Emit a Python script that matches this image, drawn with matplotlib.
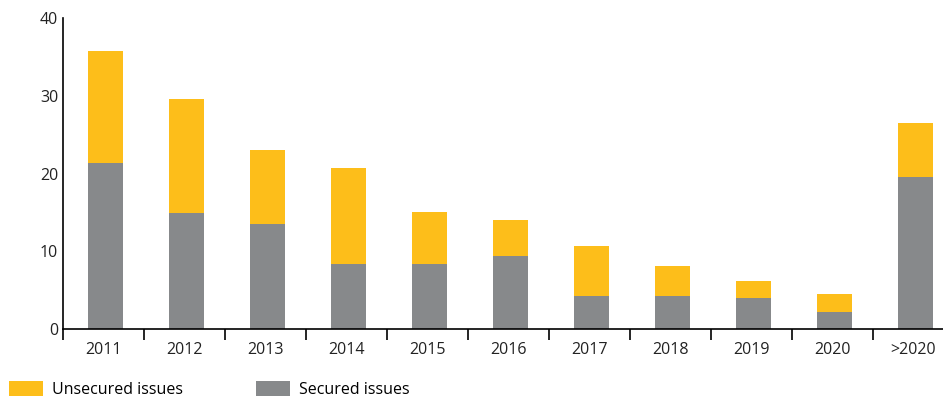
import matplotlib.pyplot as plt
import numpy as np

years = ['2011', '2012', '2013', '2014', '2015', '2016', '2017', '2018', '2019', '2020', '>2020']
secured = [21.4, 14.9, 13.5, 8.4, 8.4, 9.4, 4.2, 4.2, 4.0, 2.2, 19.5]
total = [35.8, 29.6, 23.0, 20.7, 15.0, 14.0, 10.7, 8.1, 6.2, 4.5, 26.5]
unsecured = [t - s for t, s in zip(total, secured)]

yellow = '#FDBE1A'
grey = '#87898B'

plt.rcParams['font.family'] = ['Open Sans', 'DejaVu Sans']

fig = plt.figure(figsize=(9.43, 4), dpi=100)
ax = fig.add_axes([63 / 943, 71 / 400, 891 / 943, 311 / 400])

x = np.arange(len(years))
ax.bar(x + 0.02, secured, width=0.43, color=grey, label='Secured issues')
ax.bar(x + 0.02, unsecured, width=0.43, bottom=secured, color=yellow, label='Unsecured issues')

ax.set_xlim(-0.5, len(years) - 0.5)
ax.set_ylim(0, 40)
ax.set_yticks([0, 10, 20, 30, 40])
ax.set_xticks(x)
ax.set_xticklabels(years)
ax.set_xticks(np.arange(len(years) + 1) - 0.5, minor=True)

ax.tick_params(axis='x', which='major', length=0, pad=9, labelsize=11.5, colors='#222222')
ax.tick_params(axis='x', which='minor', length=8, width=1.2, direction='out', color='black')
ax.tick_params(axis='y', length=0, pad=3.5, labelsize=11.5, colors='#222222')

for side in ['top', 'right']:
    ax.spines[side].set_visible(False)
for side in ['left', 'bottom']:
    ax.spines[side].set_linewidth(1.2)

# legend: unsecured first
h, l = ax.get_legend_handles_labels()
fig.legend([h[1], h[0]], [l[1], l[0]], loc='lower left', bbox_to_anchor=(0.01, 0.005),
           ncol=2, frameon=False, fontsize=11.5, handlelength=2.1, handleheight=1.1,
           handletextpad=0.55, columnspacing=4.6, borderaxespad=0, borderpad=0)

fig.savefig('out.png', dpi=100)
